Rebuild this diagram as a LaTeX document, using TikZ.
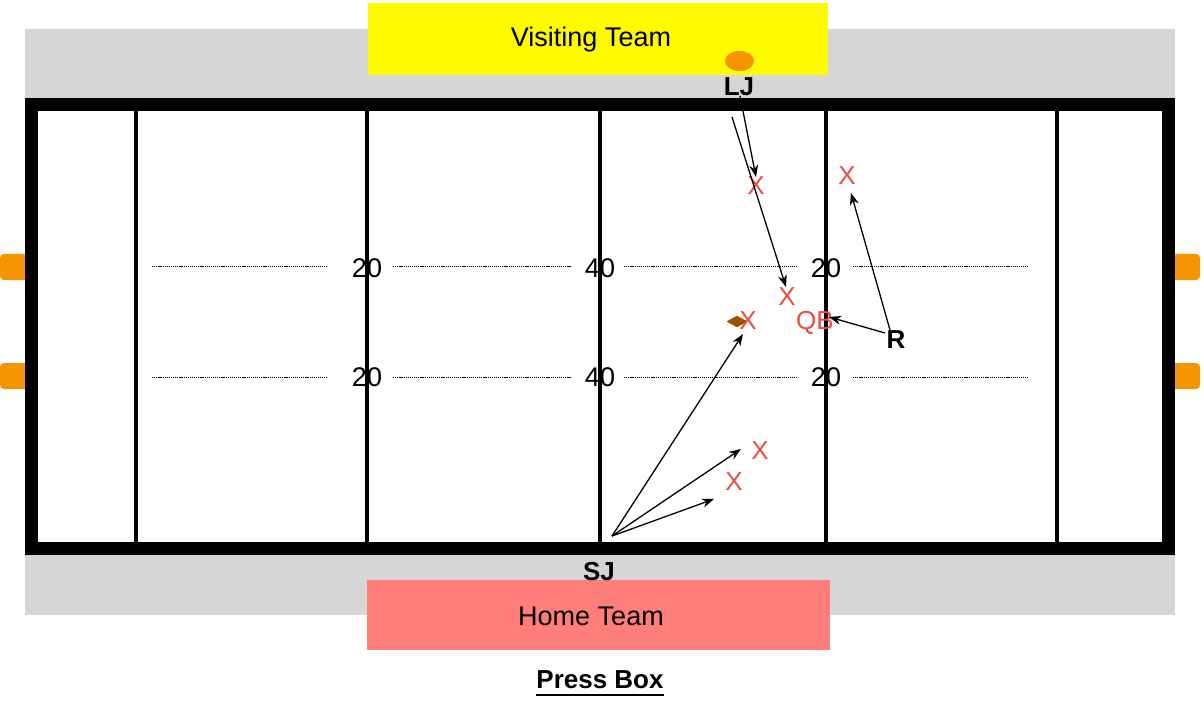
\documentclass[tikz,border=0pt]{standalone}
\usepackage{fontspec}
\setmainfont{Liberation Sans}
\usetikzlibrary{arrows.meta,shapes.geometric}
\definecolor{fieldgray}{HTML}{D6D6D6}
\definecolor{visit}{HTML}{FEFB00}
\definecolor{home}{HTML}{FF7E79}
\definecolor{marker}{HTML}{F59300}
\definecolor{xred}{HTML}{EE4B42}
\definecolor{ball}{HTML}{9A5200}
\tikzset{
  lbl/.style={font=\fontsize{27}{27}\selectfont, inner sep=0pt},
  boldlbl/.style={font=\fontsize{26}{26}\selectfont\bfseries, inner sep=0pt},
  player/.style={font=\fontsize{26}{26}\selectfont, text=xred, inner sep=0pt},
  yard/.style={font=\fontsize{27}{27}\selectfont, inner sep=0pt},
  yardline/.style={line width=3.5pt},
  hash/.style={line width=1pt, dash pattern=on 1.2pt off 0.9pt},
  move/.style={line width=1.3pt, -{Stealth[length=12pt,width=9pt]}},
  sidemark/.style={fill=marker, rounded corners=4pt}
}
\begin{document}
\begin{tikzpicture}[x=1pt,y=-1pt]
\useasboundingbox (0,0) rectangle (1204,703);
% sideline area
\fill[fieldgray] (25,29) rectangle (1175,615);
% team areas
\fill[visit] (368,3) rectangle (828,75);
\node[lbl] (visiting) at (591,40) {Visiting Team};
\fill[home] (367,580) rectangle (830,650);
\node[lbl] (hometeam) at (591,616) {Home Team};
% side markers
\fill[sidemark] (0,254) rectangle (29,280);
\fill[sidemark] (0,363) rectangle (29,389);
\fill[sidemark] (1171,254) rectangle (1200,280);
\fill[sidemark] (1171,363) rectangle (1200,389);
% field
\draw[line width=13pt, fill=white] (31.5,104.5) rectangle (1168.5,548.5);
\foreach \x in {136,367,600,826,1057}
  \draw[yardline] (\x,111) -- (\x,542);
% hash lines
\foreach \y in {267,377} {
  \draw[hash] (152,\y) -- (327,\y);
  \draw[hash] (393,\y) -- (571,\y);
  \draw[hash] (624,\y) -- (798,\y);
  \draw[hash] (853,\y) -- (1028,\y);
}
% yard numbers
\node[yard] (n20a) at (367,268) {20};
\node[yard] (n40a) at (600,268) {40};
\node[yard] (n20b) at (826,268) {20};
\node[yard] (n20c) at (367,377) {20};
\node[yard] (n40b) at (600,377) {40};
\node[yard] (n20d) at (826,377) {20};
% official marker
\node[ellipse, fill=marker, minimum width=29pt, minimum height=20pt, inner sep=0pt] (ljmark) at (739.5,61) {};
% football
\filldraw[ball] (727,321.5) -- (737,316) -- (747,321.5) -- (737,327) -- cycle;
% players
\node[player] (x1) at (756,186) {X};
\node[player] (x2) at (847,176) {X};
\node[player] (x3) at (787,297) {X};
\node[player] (x4) at (748,321) {X};
\node[player] (x5) at (760,451) {X};
\node[player] (x6) at (734,482) {X};
\node[player] (qb) at (815,323) {QB};
% officials
\node[boldlbl] (lj) at (739,87) {LJ};
\node[boldlbl] (r) at (896,340) {R};
\node[boldlbl] (sj) at (599,572) {SJ};
\node[font=\fontsize{26}{26}\selectfont\bfseries, inner sep=0pt] (press) at (600,680) {Press Box};
\draw[line width=2pt] ([yshift=-6pt]press.south west) -- ([yshift=-6pt]press.south east);
% arrow coordinates
\coordinate (ljs1) at (740,96);
\coordinate (ljt1) at (756,177);
\coordinate (ljs2) at (732,117);
\coordinate (ljt2) at (786,287);
\coordinate (rs1) at (885,333);
\coordinate (rt1) at (829,317);
\coordinate (rs2) at (890,330);
\coordinate (rt2) at (851,193);
\coordinate (sjs) at (612,536);
\coordinate (sjt1) at (743,334);
\coordinate (sjt2) at (741,449);
\coordinate (sjt3) at (714,499);
% movements
\draw[move] (ljs1) -- (ljt1);
\draw[move] (ljs2) -- (ljt2);
\draw[move] (rs1) -- (rt1);
\draw[move] (rs2) -- (rt2);
\draw[move] (sjs) -- (sjt1);
\draw[move] (sjs) -- (sjt2);
\draw[move] (sjs) -- (sjt3);
\end{tikzpicture}
\end{document}
